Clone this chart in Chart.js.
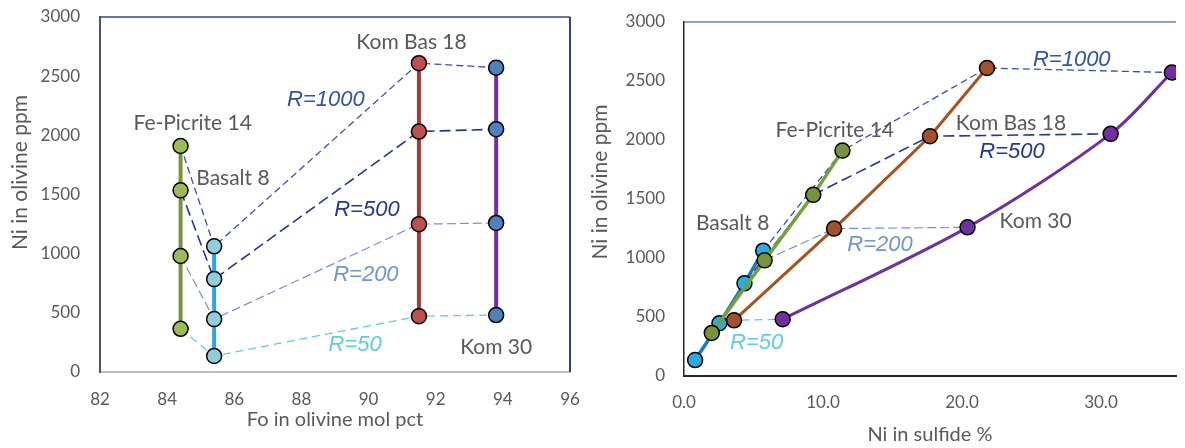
<!DOCTYPE html>
<html>
<head>
<meta charset="utf-8">
<script src="https://cdn.jsdelivr.net/npm/chart.js@4"></script>
<style>
  html, body { margin:0; padding:0; background:#fff; overflow:hidden; }
  .box { position:absolute; top:0; height:448px; }
  #left-box  { left:0;   width:590px; }
  #right-box { left:590px; width:595px; }
</style>
</head>
<body>
<div id="left-box" class="box"><canvas id="left"></canvas></div>
<div id="right-box" class="box"><canvas id="right"></canvas></div>
<script>
// groups (ordered as in the left panel) and R factor rows
const groups   = ['Fe-Picrite 14', 'Basalt 8', 'Kom Bas 18', 'Kom 30'];
const foValues = [84.4, 85.4, 91.5, 93.8];
const rNames   = ['R=1000', 'R=500', 'R=200', 'R=50'];

// Ni in olivine ppm, one value per R (1000, 500, 200, 50)
const niFePicrite = [1910, 1535, 980, 365];
const niBasalt    = [1062, 785, 447, 135];
const niKomBas    = [2610, 2032, 1249, 472];
const niKom30     = [2572, 2052, 1260, 481];

// Ni in sulfide %, same order
const sulfFePicrite = [11.4, 9.3, 5.8, 2.0];
const sulfBasalt    = [5.7, 4.35, 2.55, 0.8];
const sulfKomBas    = [21.8, 17.7, 10.8, 3.6];
const sulfKom30     = [35.1, 30.7, 20.4, 7.1];

const foTicks   = [82, 84, 86, 88, 90, 92, 94, 96];
const sulfTicks = [0, 10, 20, 30];
const niTicks   = [0, 500, 1000, 1500, 2000, 2500, 3000];

// text notes, in data units
const leftNoteText  = ['Fe-Picrite 14', 'Basalt 8', 'Kom Bas 18', 'Kom 30', 'R=1000', 'R=500', 'R=200', 'R=50'];
const leftNoteX     = [84.76, 85.96, 91.28, 93.8, 88.73, 89.95, 89.92, 89.6];
const leftNoteY     = [2104, 1640, 2789, 211, 2299, 1369, 820, 228];
const rightNoteText = ['Fe-Picrite 14', 'Basalt 8', 'Kom Bas 18', 'Kom 30', 'R=1000', 'R=500', 'R=200', 'R=50'];
const rightNoteX    = [10.85, 3.5, 23.53, 25.3, 27.9, 23.6, 14.1, 5.23];
const rightNoteY    = [2085, 1297, 2144, 1314, 2678, 1898, 1110, 280];

const GREY = '#595959';
const R_COLORS  = ['#3553A6', '#23398C', '#7094D3', '#62CCDE'];
const R_WIDTH   = [1.3, 1.6, 1.2, 1.3];
const R_DASH    = [[7, 4], [11, 5], [9, 4], [8, 5]];
const NOTE_COLORS = [GREY, GREY, GREY, GREY].concat(R_COLORS);

const TICK_FONT  = { family: 'Lato', size: 17 };
const TITLE_FONT = { family: 'Lato', size: 20 };
const Y_TITLE = 'Ni in olivine ppm';

function notesPlugin(texts, xs, ys) {
  return {
    id: 'notes',
    afterDatasetsDraw(chart) {
      const { ctx, scales: { x, y } } = chart;
      ctx.save();
      ctx.textAlign = 'center';
      ctx.textBaseline = 'middle';
      texts.forEach((t, i) => {
        const isR = t.startsWith('R=');
        ctx.font = isR ? 'italic 22px "Liberation Sans"' : '21px Lato';
        ctx.fillStyle = NOTE_COLORS[i];
        ctx.fillText(t, x.getPixelForValue(xs[i]), y.getPixelForValue(ys[i]));
      });
      ctx.restore();
    }
  };
}

// y axis title, drawn a bit above the middle of the axis like the original
function yTitlePlugin(cx, shift) {
  return {
    id: 'ytitle',
    afterDraw(chart) {
      const { ctx, chartArea: a } = chart;
      ctx.save();
      ctx.translate(cx, (a.top + a.bottom) / 2 - shift);
      ctx.rotate(-Math.PI / 2);
      ctx.font = '21px Lato';
      ctx.fillStyle = GREY;
      ctx.textAlign = 'center';
      ctx.textBaseline = 'middle';
      ctx.fillText(Y_TITLE, 0, 0);
      ctx.restore();
    }
  };
}

function framePlugin(sides) {
  return {
    id: 'frame',
    afterDraw(chart) {
      const { ctx, chartArea: a } = chart;
      ctx.save();
      sides.forEach(s => {
        ctx.strokeStyle = s.color;
        ctx.lineWidth = s.width;
        ctx.beginPath();
        if (s.side === 'top')   { ctx.moveTo(a.left, a.top);  ctx.lineTo(a.right, a.top); }
        if (s.side === 'right') { ctx.moveTo(a.right, a.top); ctx.lineTo(a.right, a.bottom); }
        ctx.stroke();
      });
      ctx.restore();
    }
  };
}

const pts = (xs, ys) => ys.map((v, i) => ({ x: xs[i], y: v }));
const col = (arrs, i) => arrs.map(a => a[i]);

function rDatasets(xArrs, yArrs) {
  return rNames.map((name, i) => ({
    label: name,
    data: pts(col(xArrs, i), col(yArrs, i)),
    showLine: true,
    borderColor: R_COLORS[i],
    borderWidth: R_WIDTH[i],
    borderDash: R_DASH[i],
    pointRadius: 0,
    order: 5,
  }));
}

function groupDataset(label, xs, ys, line, fill, width, order, tension) {
  return {
    label, data: pts(xs, ys), showLine: true,
    borderColor: line, borderWidth: width,
    pointRadius: 7.5, pointBackgroundColor: fill,
    pointBorderColor: '#000', pointBorderWidth: 1.5,
    pointHoverRadius: 7.5,
    tension: tension || 0, order,
  };
}

function axes(xMin, xMax, xTicks, xTitle, xFmt, yWidth, yPad, xBorder, yBorder, lay) {
  return {
    x: {
      type: 'linear', min: xMin, max: xMax,
      afterBuildTicks: ax => { ax.ticks = xTicks.map(v => ({ value: v })); },
      afterFit: ax => { ax.height = lay.h; ax.paddingLeft = 0; ax.paddingRight = 0; },
      grid: { display: false, drawTicks: false },
      border: { display: true, color: xBorder.color, width: xBorder.width },
      ticks: { color: GREY, font: TICK_FONT, padding: lay.tick, callback: xFmt, maxRotation: 0 },
      title: { display: true, text: xTitle, color: GREY, font: TITLE_FONT, padding: { top: 0, bottom: lay.xb } },
    },
    y: {
      type: 'linear', min: 0, max: 3000,
      afterBuildTicks: ax => { ax.ticks = niTicks.map(v => ({ value: v })); },
      afterFit: ax => { ax.width = yWidth; ax.paddingTop = 0; ax.paddingBottom = 0; },
      grid: { display: false, drawTicks: false },
      border: { display: true, color: yBorder.color, width: yBorder.width },
      ticks: { color: GREY, font: TICK_FONT, padding: yPad, callback: v => String(v) },
      title: { display: false },
    },
  };
}

const common = {
  responsive: true, maintainAspectRatio: false, animation: false,
  plugins: { legend: { display: false }, tooltip: { enabled: false } },
};

// Left: Ni in olivine vs Fo
new Chart(document.getElementById('left'), {
  type: 'scatter',
  data: {
    datasets: [
      groupDataset(groups[0], foValues.map(() => foValues[0]), niFePicrite, '#77933C', '#9BBB59', 4, 1),
      groupDataset(groups[1], foValues.map(() => foValues[1]), niBasalt,    '#29A8E0', '#92CDDC', 4, 1),
      groupDataset(groups[2], foValues.map(() => foValues[2]), niKomBas,    '#9E3D39', '#C0504D', 4, 1),
      groupDataset(groups[3], foValues.map(() => foValues[3]), niKom30,     '#7030A0', '#4F81BD', 4, 1),
    ].concat(rDatasets(
      [niFePicrite.map(() => foValues[0]), niBasalt.map(() => foValues[1]), niKomBas.map(() => foValues[2]), niKom30.map(() => foValues[3])],
      [niFePicrite, niBasalt, niKomBas, niKom30])),
  },
  options: Object.assign({}, common, {
    layout: { padding: { top: 17, right: 20, left: 0, bottom: 0 } },
    scales: axes(82, 96, foTicks, 'Fo in olivine mol pct', v => v,
      100, 20, { color: '#BFBFBF', width: 2 }, { color: '#4D5560', width: 2 },
      { h: 76, tick: 17, xb: 16 }),
  }),
  plugins: [notesPlugin(leftNoteText, leftNoteX, leftNoteY), yTitlePlugin(20, 22),
            framePlugin([{ side: 'top', color: '#2F4A78', width: 1.5 }, { side: 'right', color: '#2F4A78', width: 2 }])],
});

// Right: Ni in olivine vs Ni in sulfide
new Chart(document.getElementById('right'), {
  type: 'scatter',
  data: {
    datasets: rDatasets(
      [sulfBasalt, sulfFePicrite, sulfKomBas, sulfKom30],
      [niBasalt, niFePicrite, niKomBas, niKom30]).concat([
      groupDataset(groups[1], sulfBasalt,    niBasalt,    '#1F78C4', '#29ABE2', 3.5, 4),
      groupDataset(groups[0], sulfFePicrite, niFePicrite, '#76A13A', '#77933C', 3.5, 3),
      groupDataset(groups[2], sulfKomBas,    niKomBas,    '#A5531F', '#A0522D', 3, 2),
      groupDataset(groups[3], sulfKom30,     niKom30,     '#7030A0', '#7030A0', 3, 1, 0.3),
    ]),
  },
  options: Object.assign({}, common, {
    layout: { padding: { top: 22, right: 0, left: 0, bottom: 0 } },
    scales: axes(0, 35.4, sulfTicks, 'Ni in sulfide %', v => v.toFixed(1),
      94, 19, { color: '#262626', width: 2 }, { color: '#262626', width: 1.5 },
      { h: 72, tick: 16, xb: 1 }),
  }),
  plugins: [notesPlugin(rightNoteText, rightNoteX, rightNoteY), yTitlePlugin(10, 17),
            framePlugin([{ side: 'top', color: '#2F4A78', width: 1 }])],
});
</script>
</body>
</html>
